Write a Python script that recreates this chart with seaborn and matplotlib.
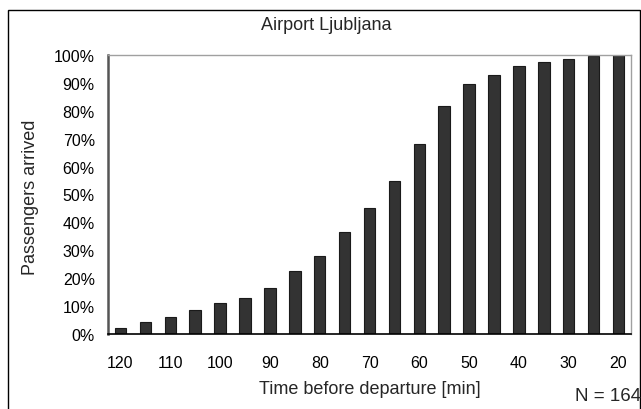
import numpy as np
import pandas as pd
import matplotlib
matplotlib.use("Agg")
import matplotlib.pyplot as plt
import matplotlib.ticker as mticker
from matplotlib.patches import Rectangle
import seaborn as sns

# minutes before departure and share of passengers already at the airport (%)
minutes = [120, 115, 110, 105, 100, 95, 90, 85, 80, 75, 70,
           65, 60, 55, 50, 45, 40, 35, 30, 25, 20]
arrived = [2.0, 4.3, 6.0, 8.6, 11.1, 12.8, 16.6, 22.6, 27.8, 36.7, 45.2,
           54.7, 68.0, 81.6, 89.6, 92.7, 96.0, 97.5, 98.6, 99.6, 100.0]
yticks = list(range(0, 101, 10))

sns.set_theme(style="white")
plt.rcParams["font.family"] = ["Liberation Sans", "DejaVu Sans"]

df = pd.DataFrame({"minutes": [str(m) for m in minutes], "arrived": arrived})

W, H = 641, 410
fig = plt.figure(figsize=(W / 100, H / 100), dpi=100)
ax = fig.add_axes([108 / W, 1 - 335 / H, (631 - 108) / W, (335 - 56) / H])

sns.barplot(data=df, x="minutes", y="arrived", order=df["minutes"],
            color="#333333", saturation=1, width=0.46, edgecolor="#1a1a1a",
            linewidth=0.8, ax=ax)

n = len(minutes)
ax.set_xlim(-0.5, n - 0.5)
ax.set_ylim(0, 100)
ax.set_yticks(yticks)
ax.yaxis.set_major_formatter(mticker.FuncFormatter(lambda v, p: f"{v:.0f}%"))

# labels every other bar, tick marks between bars
ax.set_xticks(range(0, n, 2))
ax.set_xticklabels([str(m) for m in minutes[::2]])
ax.set_xticks(np.arange(-0.5, n, 1), minor=True)
ax.tick_params(axis="x", which="major", length=0, pad=15, labelsize=11.5, colors="black")
ax.tick_params(axis="x", which="minor", direction="inout", length=8, width=1, color="#333333")
ax.tick_params(axis="y", direction="inout", length=9, width=1, pad=5, labelsize=11.5, colors="black")
ax.tick_params(axis="y", color="#333333")

ax.set_xlabel("Time before departure [min]", fontsize=13)
ax.set_ylabel("Passengers arrived", fontsize=13)
ax.xaxis.set_label_coords(0.5, -(390 - 335) / (335 - 56))
ax.xaxis.label.set_va("center")
ax.yaxis.set_label_coords(-(108 - 31) / (631 - 108), (335 - 197) / (335 - 56))
ax.yaxis.label.set_va("center")

for side in ["top", "right"]:
    ax.spines[side].set_color("#a0a0a0")
    ax.spines[side].set_linewidth(1)
ax.spines["left"].set_color("#555555")
ax.spines["left"].set_linewidth(1.8)
ax.spines["bottom"].set_color("black")
ax.spines["bottom"].set_linewidth(1.2)

fig.text(326 / W, 1 - 26 / H, "Airport Ljubljana", ha="center", va="center", fontsize=13)
fig.text(641 / W, 1 - 397 / H, "N = 164", ha="right", va="center", fontsize=13.5)

# outer chart frame
fig.patches.append(Rectangle((8 / W, -0.05), (640 - 8) / W, 1.05 - 11 / H,
                             transform=fig.transFigure, fill=False,
                             edgecolor="black", linewidth=1))

fig.savefig("out.png", dpi=100)
